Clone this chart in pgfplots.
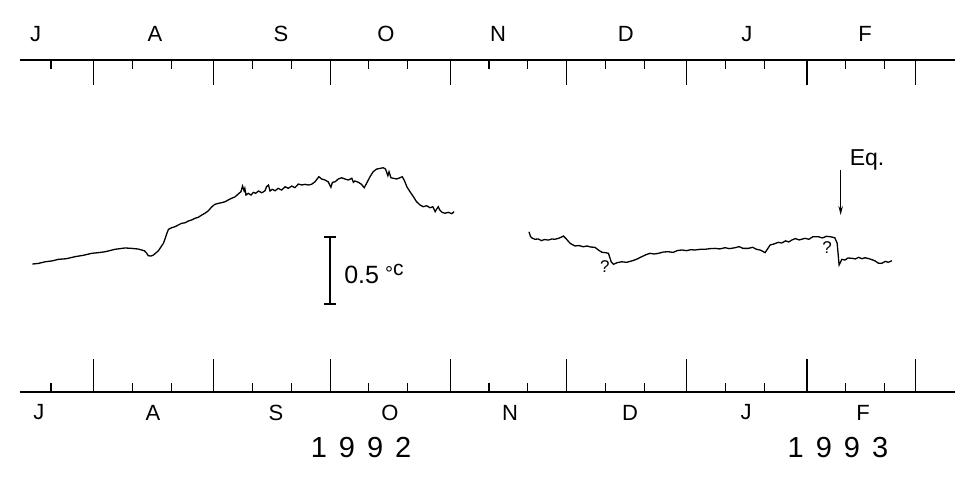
\documentclass[border=0pt]{standalone}
\usepackage{pgfplots}
\pgfplotsset{compat=1.18}
\usepackage{fontspec}
\setmainfont{Liberation Sans}
\usetikzlibrary{arrows.meta}
\tikzset{month/.style={font=\fontsize{22}{22}\selectfont}}

\pgfplotstableread{
d T
15.2 0.955
16.8 0.960
18.5 0.972
20.2 0.978
21.9 0.990
24.0 0.995
26.2 1.010
28.3 1.020
30.5 1.035
32.2 1.040
34.0 1.047
36.5 1.065
39.1 1.075
40.8 1.072
42.5 1.067
44.1 1.054
44.7 1.035
45.1 1.017
45.8 1.015
46.4 1.022
47.7 1.054
49.0 1.110
49.5 1.150
49.9 1.185
50.3 1.214
51.1 1.226
52.0 1.234
52.8 1.246
53.7 1.259
54.6 1.263
55.4 1.276
56.3 1.284
57.1 1.296
58.0 1.304
58.9 1.321
59.7 1.334
60.6 1.353
61.5 1.383
62.3 1.401
63.2 1.408
64.0 1.413
64.9 1.420
65.7 1.433
66.6 1.446
67.5 1.457
68.5 1.483
69.0 1.495
69.4 1.537
69.8 1.502
70.0 1.520
70.3 1.470
70.9 1.483
71.6 1.470
72.2 1.490
72.8 1.483
73.5 1.500
74.4 1.487
75.2 1.502
75.6 1.532
76.1 1.545
76.5 1.500
77.1 1.513
77.8 1.502
78.6 1.520
79.5 1.507
80.4 1.532
81.2 1.520
82.1 1.537
82.9 1.525
83.8 1.552
84.7 1.545
85.5 1.550
86.4 1.545
87.2 1.550
88.1 1.569
89.1 1.607
89.8 1.590
90.7 1.582
91.5 1.569
92.2 1.528
92.6 1.565
93.3 1.569
94.1 1.590
95.0 1.599
95.8 1.590
96.7 1.582
97.6 1.595
98.0 1.565
98.4 1.575
99.3 1.565
100.1 1.550
100.8 1.525
101.4 1.557
102.3 1.607
103.1 1.644
104.0 1.664
104.9 1.669
105.7 1.674
106.3 1.664
106.9 1.614
107.2 1.644
107.7 1.599
108.3 1.595
109.2 1.590
110.0 1.599
110.6 1.607
111.1 1.582
111.8 1.532
112.6 1.495
113.5 1.457
114.3 1.420
115.2 1.396
116.0 1.383
116.9 1.390
117.8 1.375
118.5 1.383
119.1 1.346
119.5 1.366
119.9 1.383
120.3 1.358
120.9 1.341
121.6 1.334
122.5 1.341
123.4 1.331
124.0 1.346
}\seriesA

\pgfplotstableread{
d T
143.3 1.196
143.7 1.160
144.0 1.151
144.8 1.140
145.7 1.142
146.5 1.130
147.3 1.138
148.3 1.134
149.2 1.142
150.0 1.140
150.9 1.147
151.6 1.155
152.2 1.164
153.0 1.140
153.9 1.110
154.5 1.100
155.2 1.090
156.2 1.093
157.3 1.084
158.3 1.090
159.2 1.082
160.3 1.080
161.2 1.060
162.1 1.043
163.0 1.040
163.8 1.035
164.5 0.972
165.1 0.953
166.0 0.965
167.2 0.972
168.5 0.968
169.8 0.978
171.0 0.990
172.4 1.010
173.5 1.025
174.5 1.035
175.6 1.030
176.7 1.035
178.0 1.045
179.2 1.047
180.5 1.042
181.5 1.055
182.7 1.060
184.0 1.055
185.0 1.062
186.1 1.060
187.5 1.065
188.7 1.065
190.0 1.070
191.3 1.072
192.5 1.068
193.9 1.077
195.0 1.070
196.5 1.077
197.5 1.085
198.5 1.072
199.9 1.072
201.0 1.080
202.0 1.065
202.9 1.060
203.6 1.050
204.2 1.040
205.0 1.075
205.5 1.097
206.5 1.105
207.6 1.117
208.5 1.112
209.5 1.128
210.3 1.120
211.1 1.134
212.0 1.145
213.0 1.135
214.5 1.147
215.5 1.140
216.5 1.158
217.9 1.159
219.0 1.150
220.0 1.162
221.2 1.158
222.2 1.151
222.8 1.110
223.3 0.948
224.0 0.990
224.8 0.985
225.6 1.000
226.6 0.998
227.5 0.993
228.3 1.005
229.2 0.995
230.0 1.002
231.0 0.995
232.0 0.985
232.6 0.978
233.4 0.962
234.3 0.960
235.2 0.975
236.0 0.968
236.9 0.980
}\seriesB

\begin{document}
\begin{tikzpicture}
\useasboundingbox (-20pt,-84pt) rectangle (937pt,392pt);
\pgfplotsset{
  common/.style={
    scale only axis, width=935pt, height=332pt,
    xmin=12, xmax=253.2, ymin=0, ymax=2.478,
    axis y line=none,
    xtick={31,62,92,123,153,184,215,243},
    minor xtick={20,41,51,72,82,102,112,133,143,163,173,194,204,225,235},
    xticklabels={},
    x axis line style={-, line width=1.3pt, black},
    every tick/.style={black, line width=1.2pt},
    minor tick length=9pt,
    xtick align=inside,
    clip=false,
  }
}
\begin{axis}[common, axis x line*=top, major tick length=25pt]
\end{axis}
\begin{axis}[common, axis x line*=bottom, major tick length=33pt]
  \addplot[black, line width=1.3pt] table[x=d, y=T] {\seriesA};
  \addplot[black, line width=1.3pt] table[x=d, y=T] {\seriesB};
  % scale bar (0.5 C)
  \addplot[black, line width=1.4pt] coordinates {(92.0,0.657) (92.0,1.157)};
  \addplot[black, line width=1.4pt] coordinates {(90.5,0.657) (93.5,0.657)};
  \addplot[black, line width=1.4pt] coordinates {(90.5,1.157) (93.5,1.157)};
  \node[anchor=west, inner sep=0pt] at (axis cs:95.6,0.881)
    {\fontsize{25}{25}\selectfont 0.5\hspace{6pt}\raisebox{3pt}{\fontsize{20}{20}\selectfont °}\raisebox{7.5pt}{\fontsize{21}{21}\selectfont c}};
  % question marks
  \node[inner sep=0pt] at (axis cs:162.9,0.933) {\fontsize{17}{17}\selectfont ?};
  \node[inner sep=0pt] at (axis cs:220.2,1.075) {\fontsize{17}{17}\selectfont ?};
  % earthquake arrow
  \draw[line width=1.3pt, -{Stealth[length=9pt,width=4.5pt]}] (axis cs:223.7,1.657) -- (axis cs:223.7,1.321);
  \node[anchor=west, inner sep=0pt] at (axis cs:226.0,1.731) {\fontsize{23}{23}\selectfont Eq.};
  % top month labels
  \node[month] at (axis cs:16.0,2.478) [yshift=26pt] {J};
  \node[month] at (axis cs:46.8,2.478) [yshift=26pt] {A};
  \node[month] at (axis cs:79.3,2.478) [yshift=26pt] {S};
  \node[month] at (axis cs:106.4,2.478) [yshift=26pt] {O};
  \node[month] at (axis cs:135.3,2.478) [yshift=26pt] {N};
  \node[month] at (axis cs:168.3,2.478) [yshift=26pt] {D};
  \node[month] at (axis cs:199.5,2.478) [yshift=26pt] {J};
  \node[month] at (axis cs:230.0,2.478) [yshift=26pt] {F};
  % bottom month labels
  \node[month] at (axis cs:16.9,0) [yshift=-20.5pt] {J};
  \node[month] at (axis cs:46.3,0) [yshift=-20.5pt] {A};
  \node[month] at (axis cs:78.0,0) [yshift=-20.5pt] {S};
  \node[month] at (axis cs:107.4,0) [yshift=-20.5pt] {O};
  \node[month] at (axis cs:138.4,0) [yshift=-20.5pt] {N};
  \node[month] at (axis cs:169.4,0) [yshift=-20.5pt] {D};
  \node[month] at (axis cs:199.3,0) [yshift=-20.5pt] {J};
  \node[month] at (axis cs:229.5,0) [yshift=-20.5pt] {F};
  % years
  \node at (axis cs:100.0,0) [yshift=-56pt] {\fontsize{29}{29}\selectfont 1\hspace{12pt}9\hspace{12pt}9\hspace{12pt}2};
  \node at (axis cs:223.0,0) [yshift=-56pt] {\fontsize{29}{29}\selectfont 1\hspace{12pt}9\hspace{12pt}9\hspace{12pt}3};
\end{axis}
\end{tikzpicture}
\end{document}
